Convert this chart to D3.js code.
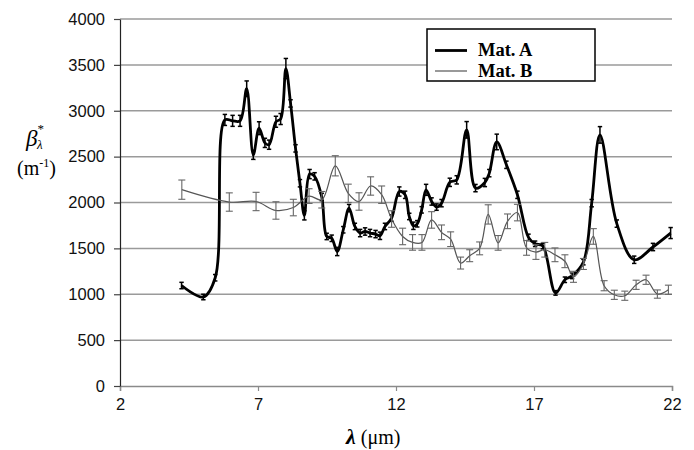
<!DOCTYPE html>
<html>
<head>
<meta charset="utf-8">
<script src="https://cdn.jsdelivr.net/npm/d3@7"></script>
<style>
  html, body { margin: 0; padding: 0; background: #fff; }
  svg { display: block; }
</style>
</head>
<body>
<svg id="chart" width="694" height="450"></svg>
<script>
// ---- data ----
const xTicks = [2, 7, 12, 17, 22];
const yTicks = [0, 500, 1000, 1500, 2000, 2500, 3000, 3500, 4000];

const matA_x = [4.23, 5.02, 5.45, 5.80, 6.08, 6.35, 6.59, 6.83, 7.04, 7.25, 7.40, 7.65, 7.82, 8.01, 8.18, 8.36, 8.52, 8.68, 8.87, 9.05, 9.31, 9.49, 9.67, 9.87, 10.09, 10.30, 10.51, 10.70, 10.88, 11.06, 11.26, 11.42, 11.60, 11.84, 12.12, 12.33, 12.48, 12.63, 12.77, 12.93, 13.09, 13.29, 13.47, 13.65, 13.95, 14.20, 14.56, 14.88, 15.22, 15.38, 15.65, 16.00, 16.40, 16.80, 17.04, 17.32, 17.78, 18.12, 18.38, 18.79, 19.09, 19.39, 20.00, 20.63, 21.31, 21.95];
const matA_y = [1095, 970, 1180, 2900, 2890, 2890, 3240, 2520, 2810, 2650, 2630, 2880, 2910, 3460, 3080, 2590, 2210, 1860, 2310, 2285, 2060, 1630, 1610, 1466, 1703, 1939, 1739, 1667, 1684, 1667, 1656, 1637, 1739, 1830, 2120, 2084, 1848, 1746, 1768, 1920, 2138, 2011, 1950, 1993, 2220, 2247, 2792, 2157, 2218, 2320, 2660, 2411, 2084, 1620, 1550, 1525, 1015, 1158, 1200, 1350, 1993, 2737, 1770, 1376, 1515, 1667];
const matA_err = [35, 30, 35, 60, 60, 60, 85, 50, 70, 50, 50, 60, 60, 110, 40, 40, 40, 50, 50, 40, 40, 35, 35, 45, 35, 40, 35, 40, 40, 40, 40, 40, 35, 35, 50, 40, 35, 40, 35, 35, 60, 40, 35, 40, 45, 45, 90, 40, 45, 40, 85, 40, 40, 35, 30, 30, 25, 30, 30, 30, 40, 90, 40, 40, 40, 60];

const matB_x = [4.24, 5.96, 6.93, 7.65, 8.28, 8.85, 9.31, 9.80, 10.27, 10.66, 11.08, 11.48, 11.84, 12.24, 12.60, 12.94, 13.29, 13.65, 13.98, 14.34, 14.67, 15.03, 15.34, 15.70, 16.04, 16.40, 16.73, 17.07, 17.39, 17.76, 18.12, 18.43, 18.79, 19.15, 19.54, 19.91, 20.29, 20.70, 21.06, 21.47, 21.87];
const matB_y = [2140, 2005, 2011, 1913, 1945, 2070, 2030, 2400, 2100, 2011, 2180, 2085, 1820, 1630, 1565, 1565, 1810, 1675, 1600, 1340, 1420, 1500, 1870, 1560, 1795, 1890, 1505, 1460, 1485, 1430, 1360, 1190, 1330, 1630, 1093, 994, 984, 1103, 1158, 1002, 1049];
const matB_err = [105, 100, 100, 95, 90, 80, 90, 110, 100, 95, 100, 95, 90, 90, 85, 85, 90, 80, 80, 65, 65, 70, 105, 80, 80, 90, 80, 80, 80, 75, 70, 60, 60, 85, 55, 50, 50, 50, 50, 45, 50];

const seriesNames = ["Mat. A", "Mat. B"];

// ---- layout ----
const svg = d3.select("#chart");
const L = 120, R = 672, T = 19, B = 386;
const x = d3.scaleLinear().domain([2, 22]).range([L, R]);
const y = d3.scaleLinear().domain([0, 4000]).range([B, T]);

const sans = "'Liberation Sans', Arial, sans-serif";
const serif = "'Liberation Serif', 'Times New Roman', serif";

// gridlines
svg.append("g").selectAll("line").data(yTicks.filter(d => d > 0)).join("line")
  .attr("x1", L).attr("x2", R)
  .attr("y1", d => y(d)).attr("y2", d => y(d))
  .attr("stroke", "#9a9a9a").attr("stroke-width", 1.5);

// x axis
const xAxis = svg.append("g").attr("transform", `translate(0,${B})`)
  .call(d3.axisBottom(x).tickValues(xTicks).tickSize(5).tickPadding(7).tickFormat(d3.format("d")));
xAxis.select(".domain").attr("stroke", "#8a8a8a").attr("stroke-width", 1.5);
xAxis.selectAll(".tick line").attr("stroke", "#8a8a8a").attr("stroke-width", 1.2);
xAxis.selectAll("text").attr("font-family", sans).attr("font-size", 16.5).attr("fill", "#111");

// y axis
const yAxis = svg.append("g").attr("transform", `translate(${L},0)`)
  .call(d3.axisLeft(y).tickValues(yTicks).tickSize(6).tickPadding(9).tickSizeOuter(0).tickFormat(d3.format("d")));
yAxis.select(".domain").attr("stroke", "#222").attr("stroke-width", 1.2);
yAxis.selectAll(".tick line").attr("stroke", "#444").attr("stroke-width", 1.2);
yAxis.selectAll("text").attr("font-family", sans).attr("font-size", 16.5).attr("fill", "#111");

// series
function zip(xs, ys, es) { return xs.map((v, i) => ({ x: v, y: ys[i], e: es[i] })); }
const dataA = zip(matA_x, matA_y, matA_err);
const dataB = zip(matB_x, matB_y, matB_err);

const line = d3.line().x(d => x(d.x)).y(d => y(d.y)).curve(d3.curveCatmullRom.alpha(0.5));

function drawSeries(data, color, width, errColor, errWidth, cap) {
  const g = svg.append("g");
  g.append("path").datum(data).attr("d", line)
    .attr("fill", "none").attr("stroke", color).attr("stroke-width", width)
    .attr("stroke-linejoin", "round");
  const eb = g.append("g").selectAll("g").data(data).join("g");
  eb.append("line")
    .attr("x1", d => x(d.x)).attr("x2", d => x(d.x))
    .attr("y1", d => y(d.y - d.e)).attr("y2", d => y(d.y + d.e))
    .attr("stroke", errColor).attr("stroke-width", errWidth);
  eb.append("line")
    .attr("x1", d => x(d.x) - cap).attr("x2", d => x(d.x) + cap)
    .attr("y1", d => y(d.y + d.e)).attr("y2", d => y(d.y + d.e))
    .attr("stroke", errColor).attr("stroke-width", errWidth);
  eb.append("line")
    .attr("x1", d => x(d.x) - cap).attr("x2", d => x(d.x) + cap)
    .attr("y1", d => y(d.y - d.e)).attr("y2", d => y(d.y - d.e))
    .attr("stroke", errColor).attr("stroke-width", errWidth);
}

drawSeries(dataA, "#000", 2.8, "#000", 1.5, 2.2);
drawSeries(dataB, "#555", 1.2, "#666", 1.1, 3.5);

// legend
const lg = svg.append("g");
lg.append("rect").attr("x", 427).attr("y", 29).attr("width", 168).attr("height", 52)
  .attr("fill", "#fff").attr("stroke", "#000").attr("stroke-width", 1.5);
lg.append("line").attr("x1", 435).attr("x2", 467).attr("y1", 50.5).attr("y2", 50.5)
  .attr("stroke", "#000").attr("stroke-width", 2.8);
lg.append("line").attr("x1", 435).attr("x2", 467).attr("y1", 71).attr("y2", 71)
  .attr("stroke", "#555").attr("stroke-width", 1.2);
lg.append("text").attr("x", 478).attr("y", 56).text(seriesNames[0])
  .attr("font-family", serif).attr("font-weight", "bold").attr("font-size", 18.5);
lg.append("text").attr("x", 478).attr("y", 77).text(seriesNames[1])
  .attr("font-family", serif).attr("font-weight", "bold").attr("font-size", 18.5);

// y label
const yl = svg.append("text").attr("x", 26).attr("y", 146)
  .attr("font-family", serif).attr("font-size", 23);
yl.append("tspan").attr("font-style", "italic").text("β");
yl.append("tspan").attr("font-size", 13).attr("dy", -13).attr("dx", 0).text("*");
yl.append("tspan").attr("font-size", 13).attr("font-style", "italic").attr("dy", 16).attr("dx", -7).text("λ");

const yl2 = svg.append("text").attr("x", 17).attr("y", 175)
  .attr("font-family", serif).attr("font-size", 20);
yl2.append("tspan").text("(m");
yl2.append("tspan").attr("font-size", 12).attr("dy", -8).text("-1");
yl2.append("tspan").attr("dy", 8).text(")");

// x label
const xl = svg.append("text").attr("x", 346).attr("y", 444)
  .attr("font-family", serif).attr("font-size", 20);
xl.append("tspan").attr("font-style", "italic").attr("font-weight", "bold").attr("font-size", 22).text("λ");
xl.append("tspan").text(" (μm)");
</script>
</body>
</html>
